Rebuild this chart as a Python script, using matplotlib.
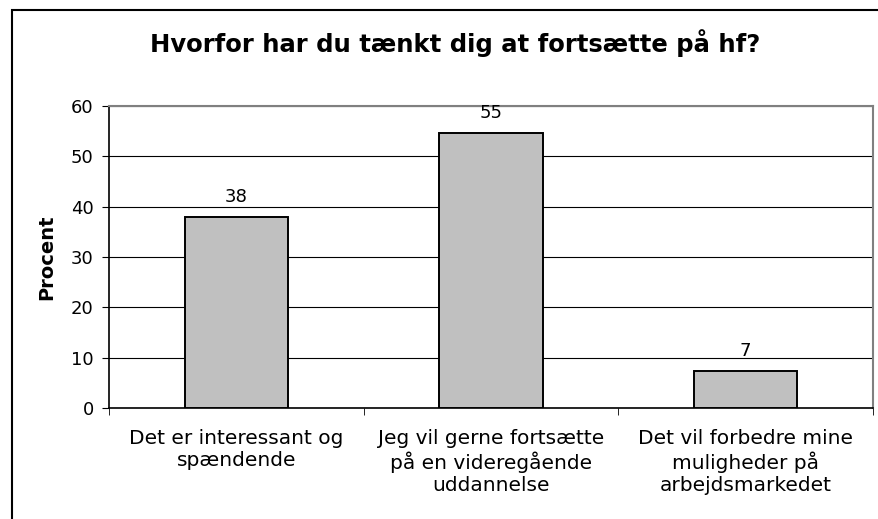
import matplotlib

matplotlib.use("Agg")
import matplotlib.pyplot as plt
from matplotlib.patches import Rectangle

categories = [
    "Det er interessant og\nspændende",
    "Jeg vil gerne fortsætte\npå en videregående\nuddannelse",
    "Det vil forbedre mine\nmuligheder på\narbejdsmarkedet",
]
values = [38, 54.6, 7.4]
value_labels = ["38", "55", "7"]
yticks = [0, 10, 20, 30, 40, 50, 60]

fig = plt.figure(figsize=(8.79, 5.19), dpi=100)
ax = fig.add_axes([109 / 879, 1 - 408 / 519, 764 / 879, 302 / 519])

# outer chart border (cropped at right/bottom)
fig.patches.append(
    Rectangle((12 / 879, -0.1), 1.2, (1 - 10 / 519) + 0.1,
              transform=fig.transFigure, fill=False, edgecolor="black",
              linewidth=1.5)
)

x = list(range(len(categories)))
ax.bar(x, values, width=0.405, color="#C0C0C0", edgecolor="black",
       linewidth=1.4, zorder=3)

for xi, v, lab in zip(x, values, value_labels):
    ax.annotate(lab, (xi, v), xytext=(0, 8), textcoords="offset points",
                ha="center", va="bottom", fontsize=13)

ax.set_xlim(-0.5, 2.5)
ax.set_ylim(0, 60)
ax.set_yticks(yticks)
ax.set_yticklabels([str(t) for t in yticks], fontsize=13)
ax.yaxis.grid(True, color="black", linewidth=0.8, zorder=0)
ax.set_axisbelow(True)

ax.set_xticks(x)
ax.set_xticklabels(categories, fontsize=14.5, linespacing=1.22)
ax.tick_params(axis="x", which="major", length=0, pad=15)
ax.set_xticks([-0.5, 0.5, 1.5, 2.5], minor=True)
ax.tick_params(axis="x", which="minor", length=5, direction="out")
ax.tick_params(axis="y", length=5, direction="out", pad=6)

for s in ["left", "bottom"]:
    ax.spines[s].set_color("black")
    ax.spines[s].set_linewidth(1.2)
for s in ["top", "right"]:
    ax.spines[s].set_color("#808080")
    ax.spines[s].set_linewidth(1.5)

ax.set_ylabel("Procent", fontsize=14, fontweight="bold")
ax.yaxis.set_label_coords(-53 / 764, 0.5)
fig.text(455 / 879, 1 - 43 / 519, "Hvorfor har du tænkt dig at fortsætte på hf?",
         ha="center", va="center", fontsize=17.5, fontweight="bold")

fig.savefig("out.png", dpi=100)
